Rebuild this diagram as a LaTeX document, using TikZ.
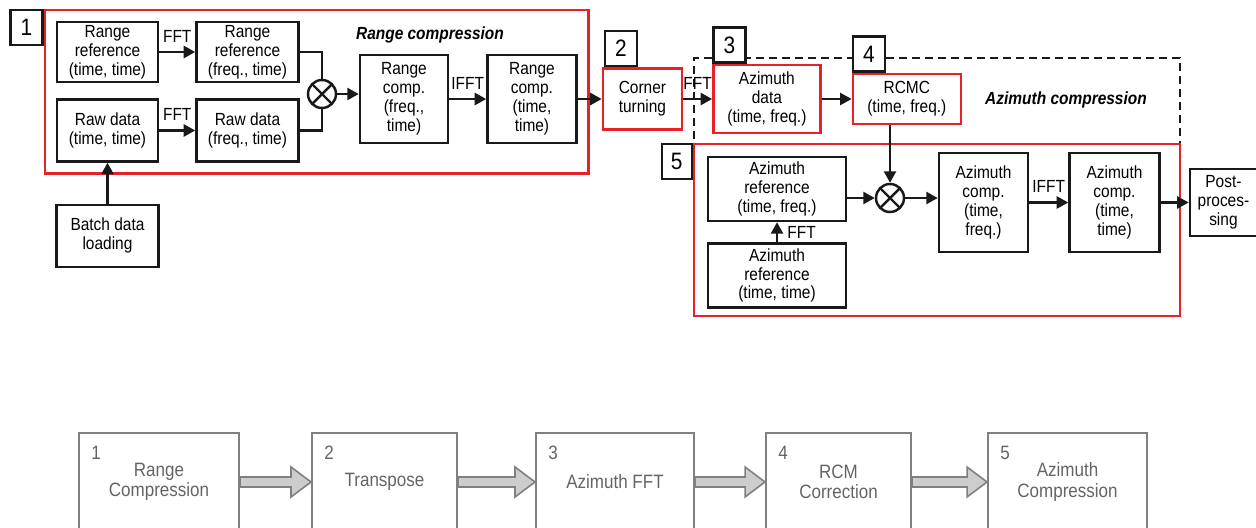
\documentclass[tikz,border=0pt]{standalone}
\usepackage{fontspec}
\setmainfont{Liberation Sans}[FakeStretch=0.88]
\usetikzlibrary{positioning,arrows.meta,calc,fit}
\definecolor{cerv}{RGB}{232,32,40}
\definecolor{seda}{RGB}{128,128,128}
\definecolor{sedaT}{RGB}{100,100,100}
\definecolor{sedaF}{RGB}{205,205,205}
\tikzset{
  blok/.style={draw=black!90,line width=1.4pt,fill=white,align=center,inner sep=1pt,font=\fontsize{10}{10.8}\selectfont},
  blokC/.style={blok,draw=cerv},
  stitek/.style={draw=black!90,line width=1.4pt,fill=white,minimum width=6.4mm,minimum height=7mm,inner sep=0pt,font=\fontsize{13.5}{13.5}\selectfont},
  skupina/.style={draw=cerv,line width=1.4pt,inner sep=0pt},
  carkovana/.style={draw=black!90,line width=1.4pt,dash pattern=on 1.6mm off 1mm,inner sep=0pt},
  nasob/.style={circle,draw=black!90,line width=1.4pt,minimum size=5.6mm,inner sep=0pt,
    path picture={\draw[line width=1.4pt] (path picture bounding box.north west)--(path picture bounding box.south east)
      (path picture bounding box.north east)--(path picture bounding box.south west);}},
  hrana/.style={line width=1.4pt,draw=black!90},
  sip/.style={hrana,-{Triangle[length=2.3mm,width=2.4mm]}},
  popis/.style={font=\fontsize{10}{10.8}\selectfont,inner sep=1pt},
  nadpis/.style={font=\fontsize{10}{10.8}\selectfont\bfseries\itshape},
  krok/.style={draw=seda,line width=1.1pt,minimum height=19.6mm,align=center,text=sedaT,font=\fontsize{11}{11.4}\selectfont},
  krokC/.style={text=sedaT,font=\fontsize{11}{11.4}\selectfont,inner sep=0pt,anchor=north west},
  tlusta/.style={draw=seda,fill=sedaF,line width=0.9pt,line join=miter},
}
\begin{document}
\begin{tikzpicture}[x=0.2mm,y=-0.2mm,>=Stealth]
  \useasboundingbox (0,0) rectangle (1256,527);
  \clip (0,0) rectangle (1256,527);
  \node[blok,minimum width=20.2mm,minimum height=12mm] (rref) at (107.5,52) {Range\\reference\\(time, time)};
  \node[blok,minimum width=20.4mm,minimum height=12mm,right=7.2mm of rref] (rrefF) {Range\\reference\\(freq., time)};
  \node[blok,minimum width=20.2mm,minimum height=12.4mm,below=3mm of rref] (raw) {Raw data\\(time, time)};
  \node[blok,minimum width=20.4mm,minimum height=12.4mm,right=7.2mm of raw] (rawF) {Raw data\\(freq., time)};
  \node[nasob] (mulR) at (322,94) {};
  \node[blok,minimum width=17.6mm,minimum height=17.6mm] (rcomp) at (404,99) {Range\\comp.\\(freq.,\\time)};
  \node[blok,minimum width=17.8mm,minimum height=17.6mm,right=7.4mm of rcomp] (rcompT) {Range\\comp.\\(time,\\time)};
  \node[blokC,minimum width=15.8mm,minimum height=12.2mm,right=4.8mm of rcompT] (corner) {Corner\\turning};
  \node[blok,minimum width=20.4mm,minimum height=12.4mm,below=8.2mm of raw] (batch) {Batch data\\loading};
  \node[nadpis] (nadR) at (430,35) {Range compression};
  \node[skupina,fit=(rref)(rcompT)(raw),inner sep=2.2mm] (grpR) {};
  \node[stitek,anchor=north east] (l1) at (grpR.north west) {1};
  \node[stitek,anchor=south west] (l2) at ($(corner.north west)+(2,0)$) {2};

  \node[carkovana,minimum width=97.2mm,minimum height=17.2mm,anchor=north west] (grpD) at (693,57) {};
  \node[skupina,minimum width=97.2mm,minimum height=34.4mm,anchor=north west] (grpA) at (693,143) {};
  \node[blokC,minimum width=21.4mm,minimum height=13.6mm,right=5.8mm of corner] (azdata) {Azimuth\\data\\(time, freq.)};
  \node[blokC,minimum width=21.6mm,minimum height=10mm,right=6mm of azdata] (rcmc) {RCMC\\(time, freq.)};
  \node[stitek,anchor=south west] (l3) at (azdata.north west) {3};
  \node[stitek,anchor=south west] (l4) at (rcmc.north west) {4};
  \node[stitek,anchor=north east,minimum width=6mm] (l5) at (grpA.north west) {5};
  \node[nadpis] (nadA) at (1066,100) {Azimuth compression};
  \node[blok,minimum width=27.6mm,minimum height=12.8mm] (azref) at (777,189) {Azimuth\\reference\\(time, freq.)};
  \node[blok,minimum width=27.6mm,minimum height=12.8mm,below=4mm of azref] (azrefT) {Azimuth\\reference\\(time, time)};
  \node[nasob] (mulA) at (890,198) {};
  \node[blok,minimum width=17.8mm,minimum height=19.8mm] (azcomp) at (983.5,202.5) {Azimuth\\comp.\\(time,\\freq.)};
  \node[blok,minimum width=18mm,minimum height=19.8mm,right=7.8mm of azcomp] (azcompT) {Azimuth\\comp.\\(time,\\time)};
  \node[blok,minimum width=13.4mm,minimum height=13.4mm,right=5.6mm of azcompT] (post) {Post-\\proces-\\sing};

  \draw[sip] (rref) -- (rrefF) node[midway,above=1.4mm,popis] {FFT};
  \draw[sip] (raw) -- (rawF) node[midway,above=1.4mm,popis] {FFT};
  \draw[sip] (batch) -- (raw);
  \draw[hrana] (rrefF.east) -- (rrefF.east -| mulR) -- (mulR.north);
  \draw[hrana] (rawF.east) -- (rawF.east -| mulR) -- (mulR.south);
  \draw[sip] (mulR) -- (mulR -| rcomp.west);
  \draw[sip] (rcomp) -- (rcompT) node[midway,above=1.4mm,popis] {IFFT};
  \draw[sip] (rcompT) -- (corner);
  \draw[sip] (corner) -- (azdata) node[midway,above=1.4mm,popis] {FFT};
  \draw[sip] (azdata) -- (rcmc);
  \draw[sip] (rcmc.south -| mulA) -- (mulA);
  \draw[sip] (azrefT) -- (azref) node[midway,right=1.5mm,popis] {FFT};
  \draw[sip] (azref.east |- mulA) -- (mulA);
  \draw[sip] (mulA) -- (mulA -| azcomp.west);
  \draw[sip] (azcomp) -- (azcompT) node[midway,above=1.4mm,popis] {IFFT};
  \draw[sip] (azcompT) -- (post);

  \node[krok,minimum width=32mm] (k1) at (159,482) {Range\\Compression};
  \node[krok,minimum width=29mm] (k2) at (384.5,482) {Transpose};
  \node[krok,minimum width=31.6mm] (k3) at (615,482) {Azimuth FFT};
  \node[krok,minimum width=29mm] (k4) at (838.5,482) {RCM\\Correction};
  \node[krok,minimum width=31.8mm] (k5) at (1067.5,482) {Azimuth\\Compression};
  \foreach \i in {1,...,5}
    \node[krokC] at ($(k\i.north west)+(13,14)$) {\i};
  \foreach \a/\b in {k1/k2,k2/k3,k3/k4,k4/k5}
    \draw[tlusta] ($(\a.east)+(0,-5)$) -- ($(\b.west)+(-20,-5)$) -- ($(\b.west)+(-20,-15)$) -- (\b.west)
      -- ($(\b.west)+(-20,15)$) -- ($(\b.west)+(-20,5)$) -- ($(\a.east)+(0,5)$) -- cycle;
\end{tikzpicture}
\end{document}
